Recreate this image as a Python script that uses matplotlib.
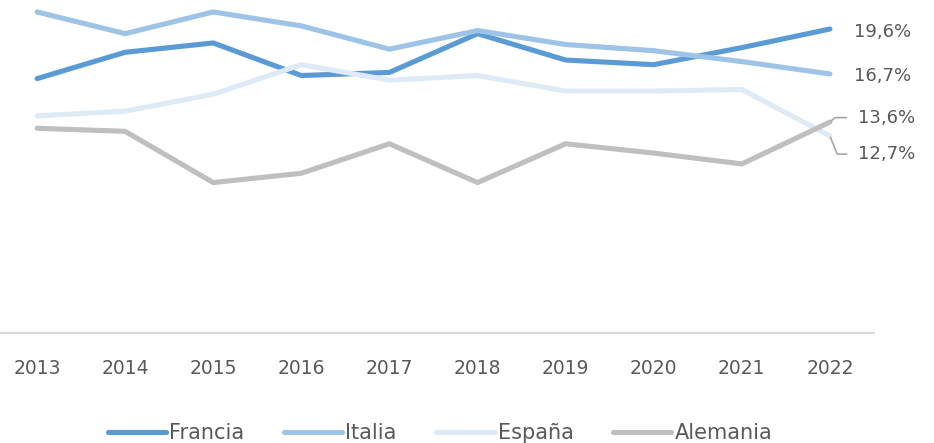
import numpy as np
import matplotlib
matplotlib.use("Agg")
import matplotlib.pyplot as plt

years = [2013, 2014, 2015, 2016, 2017, 2018, 2019, 2020, 2021, 2022]
francia = [16.4, 18.1, 18.7, 16.6, 16.8, 19.3, 17.6, 17.3, 18.4, 19.6]
italia = [20.7, 19.3, 20.7, 19.8, 18.3, 19.5, 18.6, 18.2, 17.5, 16.7]
espana = [14.0, 14.3, 15.4, 17.3, 16.3, 16.6, 15.6, 15.6, 15.7, 12.7]
alemania = [13.2, 13.0, 9.7, 10.3, 12.2, 9.7, 12.2, 11.6, 10.9, 13.6]

series = [
    ("Francia", francia, "#5B9BD5"),
    ("Italia", italia, "#9DC3E6"),
    ("España", espana, "#DEEBF7"),
    ("Alemania", alemania, "#BFBFBF"),
]

TEXT = "#595959"

fig = plt.figure(figsize=(9.34, 4.43), dpi=100)
ax = fig.add_axes([-7 / 934, 110 / 443, 881 / 934, 333 / 443])

for name, vals, col in series:
    ax.plot(years, vals, color=col, lw=3.7, solid_capstyle="round",
            solid_joinstyle="round", label=name)

ax.set_xlim(2012.5, 2022.5)
ax.set_ylim(0, 21.47)
ax.set_yticks([])
ax.set_xticks(years, [str(y) for y in years])
ax.tick_params(axis="x", length=0, pad=19, labelsize=13.5, labelcolor=TEXT)
for s in ["top", "right", "left"]:
    ax.spines[s].set_visible(False)
ax.spines["bottom"].set_color("#D9D9D9")
ax.spines["bottom"].set_linewidth(1.6)

# end-of-line value labels (last two need leader lines)
last = years[-1]
ax.annotate(f"{francia[-1]:.1f}%".replace(".", ","), xy=(last, francia[-1]),
            xytext=(17.3, -1.8), textcoords="offset points", va="center",
            ha="left", fontsize=13, color=TEXT)
ax.annotate(f"{italia[-1]:.1f}%".replace(".", ","), xy=(last, italia[-1]),
            xytext=(17.3, -1.4), textcoords="offset points", va="center",
            ha="left", fontsize=13, color=TEXT)
ax.annotate(f"{alemania[-1]:.1f}%".replace(".", ","), xy=(last, alemania[-1]),
            xytext=(20, 3.2), textcoords="offset points", va="center",
            ha="left", fontsize=13, color=TEXT,
            arrowprops=dict(arrowstyle="-", color="#A6A6A6", lw=1.2,
                            connectionstyle="angle,angleA=0,angleB=41,rad=0",
                            relpos=(0, 0.5), shrinkA=6, shrinkB=1))
ax.annotate(f"{espana[-1]:.1f}%".replace(".", ","), xy=(last, espana[-1]),
            xytext=(20, -13), textcoords="offset points", va="center",
            ha="left", fontsize=13, color=TEXT,
            arrowprops=dict(arrowstyle="-", color="#A6A6A6", lw=1.2,
                            connectionstyle="angle,angleA=0,angleB=-68,rad=0",
                            relpos=(0, 0.5), shrinkA=6, shrinkB=1))

leg = fig.legend(loc="center", bbox_to_anchor=(440 / 934, 10 / 443), ncol=4,
                 frameon=False, handlelength=2.8, handletextpad=0.15,
                 columnspacing=1.9, prop={"family": "DejaVu Sans", "size": 15})
for t in leg.get_texts():
    t.set_color(TEXT)

fig.savefig("out.png", dpi=100)
